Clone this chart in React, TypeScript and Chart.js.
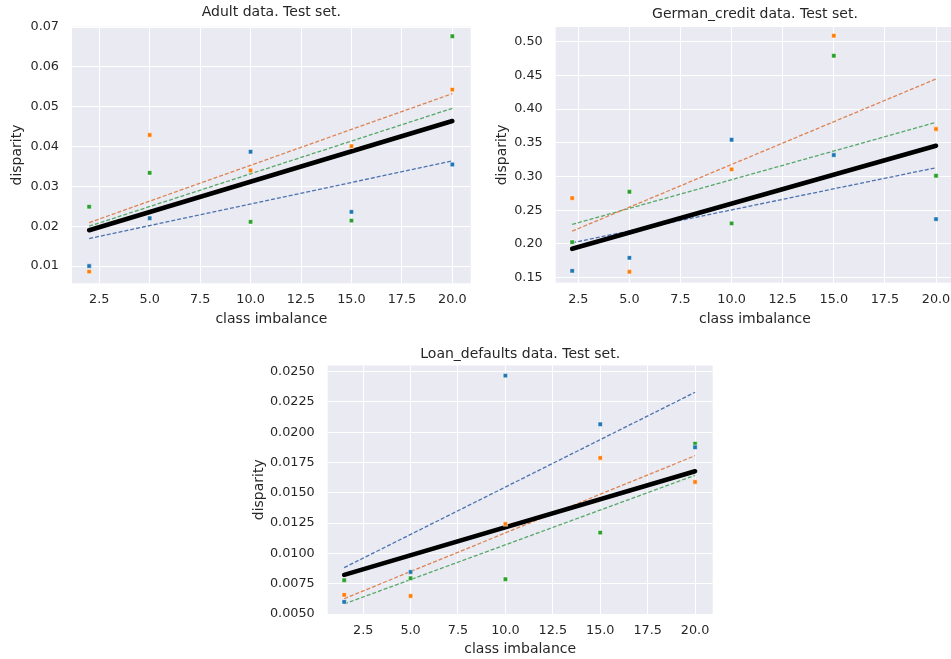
import React, { useEffect, useRef } from "react";
import { Chart, registerables } from "chart.js";

Chart.register(...registerables);

// ---------- data ----------
const adultX = [2, 5, 10, 15, 20];
const adultBlue = [0.01, 0.022, 0.0387, 0.0236, 0.0355];
const adultOrange = [0.0086, 0.0429, 0.034, 0.0401, 0.0543];
const adultGreen = [0.0249, 0.0334, 0.0211, 0.0214, 0.0677];
const adultFitX = [2, 20];
const adultFitBlue = [0.0169, 0.0364];
const adultFitOrange = [0.0209, 0.0533];
const adultFitGreen = [0.02, 0.0496];
const adultFitBlack = [0.019, 0.0464];
const adultYTicks = [0.01, 0.02, 0.03, 0.04, 0.05, 0.06, 0.07];

const germanX = [2.2, 5, 10, 15, 20];
const germanBlue = [0.1602, 0.1795, 0.3546, 0.3319, 0.2369];
const germanOrange = [0.2681, 0.1588, 0.3107, 0.5089, 0.3705];
const germanGreen = [0.2028, 0.2774, 0.2305, 0.4792, 0.3012];
const germanFitX = [2.2, 20];
const germanFitBlue = [0.2018, 0.3131];
const germanFitOrange = [0.2191, 0.4447];
const germanFitGreen = [0.229, 0.3804];
const germanFitBlack = [0.1929, 0.3457];
const germanYTicks = [0.15, 0.2, 0.25, 0.3, 0.35, 0.4, 0.45, 0.5];

const loanX = [1.5, 5, 10, 15, 20];
const loanBlue = [0.006, 0.00847, 0.02467, 0.02066, 0.01876];
const loanOrange = [0.00658, 0.00649, 0.01243, 0.01788, 0.0159];
const loanGreen = [0.00779, 0.00795, 0.00787, 0.01172, 0.01906];
const loanFitX = [1.5, 20];
const loanFitBlue = [0.00883, 0.0233];
const loanFitOrange = [0.00627, 0.01807];
const loanFitGreen = [0.00583, 0.01645];
const loanFitBlack = [0.00823, 0.01678];
const loanYTicks = [0.005, 0.0075, 0.01, 0.0125, 0.015, 0.0175, 0.02, 0.0225, 0.025];

const xTickValues = [2.5, 5, 7.5, 10, 12.5, 15, 17.5, 20];
const xLabel = "class imbalance";
const yLabel = "disparity";

// ---------- style ----------
const FONT = "'DejaVu Sans', 'Liberation Sans', sans-serif";
const TEXT = "#262626";
const BG = "#EAEAF2";
const TICK_SIZE = 12.8;
const LABEL_SIZE = 14;
const PT = { blue: "#1f77b4", orange: "#ff7f0e", green: "#2ca02c" };
const LN = { blue: "#4c72b0", orange: "#dd8452", green: "#55a868" };

const bgPlugin = {
  id: "plotBg",
  beforeDraw(chart: any) {
    const { ctx, chartArea: a } = chart;
    ctx.save();
    ctx.fillStyle = BG;
    ctx.fillRect(a.left, a.top, a.right - a.left, a.bottom - a.top);
    ctx.restore();
  },
};

type PanelProps = {
  left: number;
  top: number;
  width: number;
  height: number;
  title: string;
  titlePadTop: number;
  titlePadBottom: number;
  yAxisWidth: number;
  xAxisHeight: number;
  padRight: number;
  yTitlePad: number;
  xTitlePad: number;
  xs: number[];
  blue: number[];
  orange: number[];
  green: number[];
  fitX: number[];
  fitBlue: number[];
  fitOrange: number[];
  fitGreen: number[];
  fitBlack: number[];
  xMin: number;
  xMax: number;
  yMin: number;
  yMax: number;
  yTicks: number[];
  yDec: number;
};

const pts = (xs: number[], ys: number[]) => xs.map((x, i) => ({ x, y: ys[i] }));

function Panel(p: PanelProps) {
  const ref = useRef<HTMLCanvasElement | null>(null);
  useEffect(() => {
    if (!ref.current) return;
    const pointDs = (data: number[], color: string) => ({
      data: pts(p.xs, data),
      showLine: false,
      pointStyle: "rect",
      pointRadius: 3.1,
      pointBackgroundColor: color,
      pointBorderColor: "rgba(255,255,255,0.85)",
      pointBorderWidth: 0.6,
    });
    const lineDs = (data: number[], color: string, black = false) => ({
      data: pts(p.fitX, data),
      showLine: true,
      pointRadius: 0,
      borderColor: color,
      borderWidth: black ? 4.6 : 1.3,
      borderDash: black ? [] : [4, 2],
      borderCapStyle: black ? "round" : "butt",
      fill: false,
    });
    const chart = new Chart(ref.current, {
      type: "scatter",
      data: {
        datasets: [
          pointDs(p.blue, PT.blue),
          pointDs(p.orange, PT.orange),
          pointDs(p.green, PT.green),
          lineDs(p.fitBlack, "#000000", true),
          lineDs(p.fitBlue, LN.blue),
          lineDs(p.fitOrange, LN.orange),
          lineDs(p.fitGreen, LN.green),
        ] as any,
      },
      options: {
        animation: false,
        responsive: false,
        maintainAspectRatio: false,
        layout: { padding: { left: 0, top: 0, bottom: 0, right: p.padRight } },
        plugins: {
          legend: { display: false },
          tooltip: { enabled: false },
          title: {
            display: true,
            text: p.title,
            color: TEXT,
            fullSize: false,
            font: { family: FONT, size: LABEL_SIZE, weight: "normal", lineHeight: 1.2 },
            padding: { top: p.titlePadTop, bottom: p.titlePadBottom },
          },
        },
        scales: {
          x: {
            type: "linear",
            min: p.xMin,
            max: p.xMax,
            afterBuildTicks: (s: any) => {
              s.ticks = xTickValues.map((v) => ({ value: v }));
            },
            afterFit: (s: any) => {
              s.height = p.xAxisHeight;
            },
            grid: { color: "#ffffff", lineWidth: 1, drawTicks: false },
            border: { display: false },
            ticks: {
              color: TEXT,
              font: { family: FONT, size: TICK_SIZE },
              padding: 9,
              maxRotation: 0,
              autoSkip: false,
              callback: (v: any) => Number(v).toFixed(1),
            },
            title: {
              display: true,
              text: xLabel,
              color: TEXT,
              font: { family: FONT, size: LABEL_SIZE, lineHeight: 1.2 },
              padding: { top: 0, bottom: p.xTitlePad },
            },
          },
          y: {
            type: "linear",
            min: p.yMin,
            max: p.yMax,
            afterBuildTicks: (s: any) => {
              s.ticks = p.yTicks.map((v) => ({ value: v }));
            },
            afterFit: (s: any) => {
              s.width = p.yAxisWidth;
            },
            grid: { color: "#ffffff", lineWidth: 1, drawTicks: false },
            border: { display: false },
            ticks: {
              color: TEXT,
              font: { family: FONT, size: TICK_SIZE },
              padding: 13,
              autoSkip: false,
              callback: (v: any) => Number(v).toFixed(p.yDec),
            },
            title: {
              display: true,
              text: yLabel,
              color: TEXT,
              font: { family: FONT, size: LABEL_SIZE, lineHeight: 1.2 },
              padding: { top: p.yTitlePad, bottom: 0 },
            },
          },
        },
      } as any,
      plugins: [bgPlugin],
    });
    return () => chart.destroy();
  }, []);
  return (
    <canvas
      ref={ref}
      width={p.width}
      height={p.height}
      style={{
        position: "absolute",
        left: p.left,
        top: p.top,
        width: p.width,
        height: p.height,
        display: "block",
      }}
    />
  );
}

export default function App() {
  return (
    <div
      style={{
        position: "fixed",
        left: 0,
        top: 0,
        width: 951,
        height: 659,
        overflow: "hidden",
        background: "#ffffff",
      }}
    >
      <Panel
        left={0}
        top={0}
        width={480}
        height={330}
        title="Adult data. Test set."
        titlePadTop={4.1}
        titlePadBottom={5.8}
        yAxisWidth={72}
        xAxisHeight={46.7}
        padRight={9.3}
        yTitlePad={8.6}
        xTitlePad={2.6}
        xs={adultX}
        blue={adultBlue}
        orange={adultOrange}
        green={adultGreen}
        fitX={adultFitX}
        fitBlue={adultFitBlue}
        fitOrange={adultFitOrange}
        fitGreen={adultFitGreen}
        fitBlack={adultFitBlack}
        xMin={1.15}
        xMax={20.91}
        yMin={0.00566}
        yMax={0.0701}
        yTicks={adultYTicks}
        yDec={2}
      />
      <Panel
        left={480}
        top={0}
        width={480}
        height={330}
        title="German_credit data. Test set."
        titlePadTop={5.6}
        titlePadBottom={4.6}
        yAxisWidth={75.7}
        xAxisHeight={47.3}
        padRight={5.8}
        yTitlePad={13.6}
        xTitlePad={2.6}
        xs={germanX}
        blue={germanBlue}
        orange={germanOrange}
        green={germanGreen}
        fitX={germanFitX}
        fitBlue={germanFitBlue}
        fitOrange={germanFitOrange}
        fitGreen={germanFitGreen}
        fitBlack={germanFitBlack}
        xMin={1.394}
        xMax={20.89}
        yMin={0.1426}
        yMax={0.5218}
        yTicks={germanYTicks}
        yDec={2}
      />
      <Panel
        left={240}
        top={330}
        width={480}
        height={329}
        title="Loan_defaults data. Test set."
        titlePadTop={15.6}
        titlePadBottom={3.1}
        yAxisWidth={87.7}
        xAxisHeight={45}
        padRight={7.3}
        yTitlePad={10.6}
        xTitlePad={1.6}
        xs={loanX}
        blue={loanBlue}
        orange={loanOrange}
        green={loanGreen}
        fitX={loanFitX}
        fitBlue={loanFitBlue}
        fitOrange={loanFitOrange}
        fitGreen={loanFitGreen}
        fitBlack={loanFitBlack}
        xMin={0.63}
        xMax={20.93}
        yMin={0.005}
        yMax={0.02551}
        yTicks={loanYTicks}
        yDec={4}
      />
    </div>
  );
}
